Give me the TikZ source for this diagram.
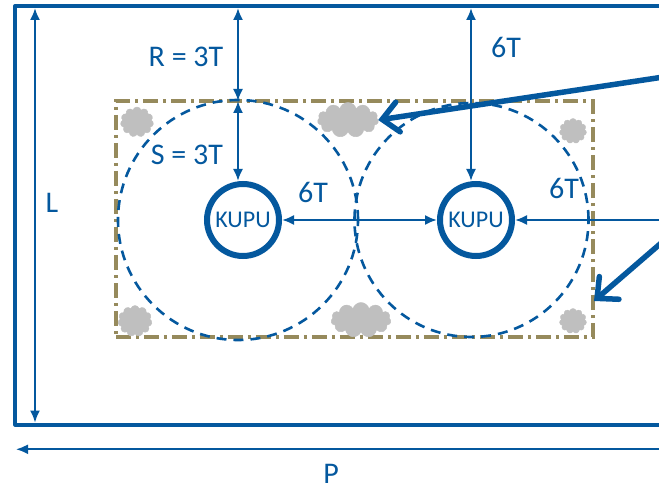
\documentclass[tikz,border=0pt]{standalone}
\usepackage{fontspec}
\setmainfont{Carlito}
\usetikzlibrary{arrows.meta,shapes.symbols}
\definecolor{planblue}{RGB}{4,88,158}
\definecolor{zoneolive}{RGB}{150,138,92}
\definecolor{bushgray}{RGB}{191,191,191}
\tikzset{
  wall/.style={draw=planblue, line width=4.2pt, line join=round},
  dim/.style={draw=planblue, line width=2pt,
    {Latex[length=12pt,width=10pt]}-{Latex[length=12pt,width=10pt]}},
  pointer/.style={draw=planblue, line width=5.5pt, line cap=round,
    -{Straight Barb[length=16pt,width=30pt,line cap=round]}},
  well/.style={circle, draw=planblue, line width=6pt, minimum size=72pt,
    inner sep=0pt, text=planblue, font=\fontsize{24}{28}\selectfont},
  reach/.style={draw=planblue, line width=2.6pt, dash pattern=on 10pt off 7pt},
  zone/.style={draw=zoneolive, line width=3.2pt, inner sep=0pt, outer sep=0pt,
    dash pattern=on 15pt off 5pt on 3pt off 5pt},
  bush/.style={cloud, cloud puffs=11, cloud ignores aspect, fill=bushgray,
    draw=bushgray, inner sep=0pt, outer sep=0pt},
  lbl/.style={text=planblue, inner sep=0pt, font=\fontsize{30}{34}\selectfont}
}
\begin{document}
\begin{tikzpicture}[x=1pt,y=-1pt]
  \useasboundingbox (0,0) rectangle (659,492);
  \clip (0,0) rectangle (659,492);

  % plot boundary, open to the right
  \draw[wall] (700,6) -- (15.3,6) -- (15.3,424.7) -- (700,424.7);

  % protection zone around the wells
  \node[zone, minimum width=477pt, minimum height=236pt] (zone) at (354.4,219) {};

  % radius of influence of each well
  \draw[reach] (238,220) circle[radius=120pt];
  \draw[reach] (471.5,220) circle[radius=117pt];

  % vegetation
  \node[bush, minimum width=33pt, minimum height=30pt] (bush1) at (137,122) {};
  \node[bush, minimum width=61pt, minimum height=35pt] (bush2) at (348,120) {};
  \node[bush, minimum width=27pt, minimum height=25pt] (bush3) at (573,131) {};
  \node[bush, minimum width=34pt, minimum height=31pt] (bush4) at (135,321) {};
  \node[bush, minimum width=60pt, minimum height=35pt] (bush5) at (361,320) {};
  \node[bush, minimum width=27pt, minimum height=25pt] (bush6) at (573,321) {};

  % wells
  \node[well] (kupuL) at (243,220) {KUPU};
  \node[well] (kupuR) at (476,220) {KUPU};

  % dimension lines
  \coordinate (Ltop) at (35,8);
  \coordinate (Lbot) at (35,422.6);
  \draw[dim] (Ltop) -- (Lbot);

  \coordinate (Pleft) at (16,449.3);
  \coordinate (Pright) at (671,449.3);
  \draw[dim] (Pleft) -- (Pright);

  \coordinate (Rtop) at (238,8);
  \draw[dim] (Rtop) -- (Rtop |- zone.north);
  \draw[dim] (Rtop |- zone.north) -- (Rtop |- kupuL.north);

  \draw[dim] (kupuL.east) -- (kupuR.west);

  \coordinate (Ttop) at (471,8);
  \draw[dim] (Ttop) -- (Ttop |- kupuR.north);

  \coordinate (Eright) at (671,220);
  \draw[dim] (kupuR.east) -- (Eright);

  % pointers coming from the right
  \coordinate (ptrA) at (700,71.5);
  \draw[pointer] (ptrA) -- (bush2.east);
  \coordinate (ptrB) at (700,209.5);
  \coordinate (ptrBtip) at (594,301);
  \draw[pointer] (ptrB) -- (ptrBtip);

  % labels
  \node[lbl] (labR) at (186,57) {R = 3T};
  \node[lbl] (labS) at (187,155) {S = 3T};
  \node[lbl] (labM) at (313,192) {6T};
  \node[lbl] (labT) at (506,47) {6T};
  \node[lbl] (labE) at (564,188) {6T};
  \node[lbl] (labL) at (52,203) {L};
  \node[lbl] (labP) at (331,474) {P};
\end{tikzpicture}
\end{document}
